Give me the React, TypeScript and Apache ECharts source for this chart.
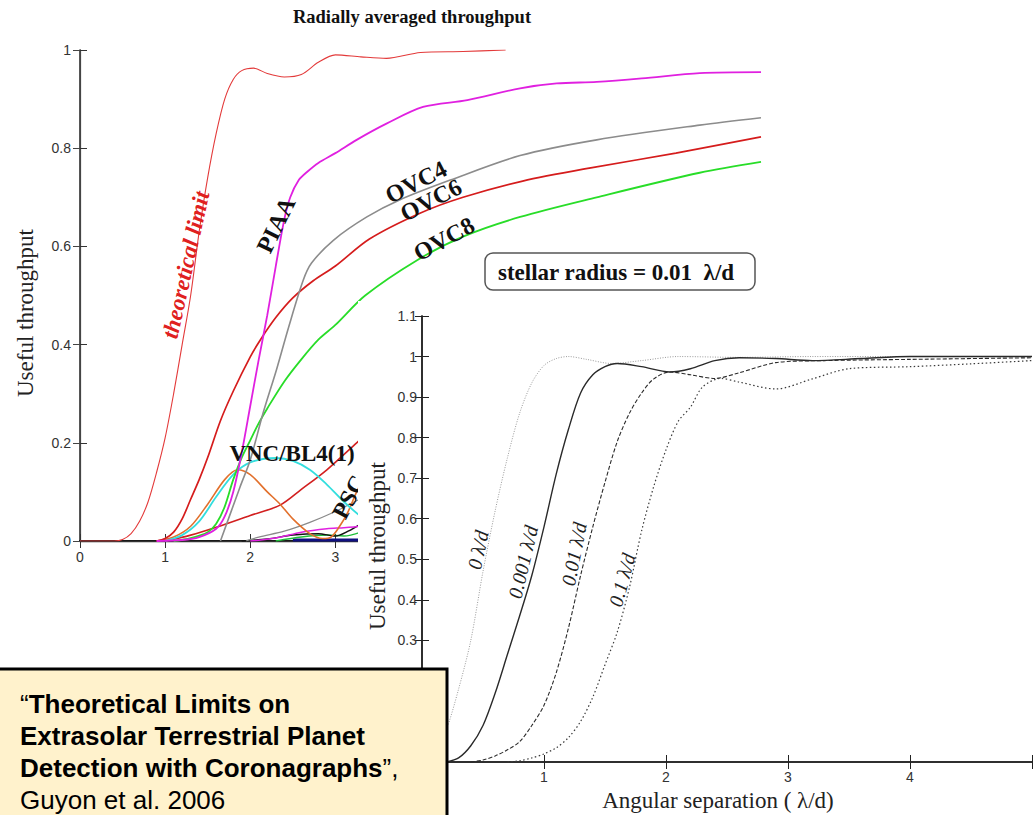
import React, { useEffect, useRef } from "react";
import * as echarts from "echarts";

type Pt = [number, number];

// ---------- Chart 1: Radially averaged throughput ----------
const CH1_TITLE = "Radially averaged throughput";
const CH1_Y_NAME = "Useful throughput";
const CH1_X_VISIBLE_MAX = 3;

const theoreticalLimit: Pt[] = [
  [0, 0], [0.4, 0], [0.5, 0.003], [0.6, 0.015], [0.7, 0.04], [0.8, 0.08], [0.9, 0.14],
  [1.0, 0.21], [1.1, 0.3], [1.2, 0.4], [1.3, 0.5], [1.4, 0.63], [1.5, 0.74], [1.6, 0.83],
  [1.7, 0.9], [1.8, 0.94], [1.9, 0.958], [2.04, 0.963], [2.2, 0.952], [2.4, 0.945],
  [2.6, 0.95], [2.8, 0.975], [3.0, 0.99], [3.3, 0.986], [3.6, 0.983], [4.0, 0.995],
  [4.5, 0.997], [5.0, 1.0],
];
const piaa: Pt[] = [
  [0.9, 0], [1.2, 0.002], [1.4, 0.008], [1.6, 0.025], [1.7, 0.05], [1.8, 0.1], [1.9, 0.18],
  [2.0, 0.275], [2.1, 0.37], [2.2, 0.46], [2.3, 0.56], [2.4, 0.655], [2.47, 0.7],
  [2.57, 0.735], [2.67, 0.752], [2.8, 0.77], [3.0, 0.79], [3.25, 0.817], [3.6, 0.85],
  [4.03, 0.884], [4.55, 0.898], [5.17, 0.922], [5.6, 0.932], [6.07, 0.935], [6.6, 0.942],
  [7.28, 0.953], [8, 0.955],
];
const ovc4: Pt[] = [
  [1.65, 0], [1.88, 0.11], [2.0, 0.165], [2.15, 0.26], [2.31, 0.35], [2.45, 0.435],
  [2.62, 0.53], [2.72, 0.566], [2.98, 0.613], [3.37, 0.66], [3.76, 0.695], [4.35, 0.735],
  [5.17, 0.785], [6.07, 0.817], [7.28, 0.847], [8, 0.862],
];
const ovc6: Pt[] = [
  [0.9, 0], [1.0, 0.005], [1.1, 0.018], [1.2, 0.045], [1.3, 0.085], [1.4, 0.125],
  [1.5, 0.17], [1.65, 0.245], [1.8, 0.305], [2.0, 0.375], [2.12, 0.41], [2.3, 0.455],
  [2.5, 0.495], [2.74, 0.53], [3.0, 0.56], [3.4, 0.615], [4.0, 0.668], [4.5, 0.7],
  [5.2, 0.733], [6.0, 0.76], [7.0, 0.79], [8.0, 0.823],
];
const ovc8: Pt[] = [
  [1.1, 0], [1.3, 0.006], [1.5, 0.018], [1.6, 0.035], [1.7, 0.07], [1.8, 0.125],
  [1.9, 0.17], [2.0, 0.205], [2.1, 0.24], [2.2, 0.27], [2.4, 0.325], [2.6, 0.37],
  [2.8, 0.41], [3.0, 0.44], [3.35, 0.5], [3.96, 0.572], [4.5, 0.62], [5.17, 0.66],
  [6.07, 0.7], [7.28, 0.75], [8, 0.772],
];
const vncBl4: Pt[] = [
  [1.0, 0], [1.2, 0.012], [1.4, 0.04], [1.6, 0.09], [1.8, 0.135], [2.0, 0.16],
  [2.3, 0.169], [2.5, 0.163], [2.7, 0.145], [2.9, 0.115], [3.1, 0.08], [3.3, 0.05],
  [3.5, 0.03], [3.8, 0.015],
];
const orangeCurve: Pt[] = [
  [0.9, 0], [1.1, 0.008], [1.3, 0.03], [1.5, 0.075], [1.7, 0.125], [1.85, 0.145],
  [2.0, 0.135], [2.2, 0.1], [2.35, 0.075], [2.5, 0.045], [2.7, 0.015], [2.85, 0.005],
  [2.95, 0.008], [3.05, 0.03], [3.15, 0.06], [3.25, 0.1], [3.35, 0.13], [3.5, 0.15],
];
const redLowCurve: Pt[] = [
  [1.0, 0], [1.3, 0.012], [1.6, 0.028], [2.0, 0.052], [2.35, 0.073], [2.6, 0.105],
  [2.9, 0.145], [3.25, 0.2], [3.5, 0.24],
];
const grayLowCurve: Pt[] = [
  [1.95, 0], [2.1, 0.008], [2.4, 0.02], [2.7, 0.038], [3.0, 0.06], [3.26, 0.083], [3.5, 0.1],
];
const magentaLowCurve: Pt[] = [
  [2.0, 0], [2.3, 0.006], [2.6, 0.018], [2.9, 0.025], [3.1, 0.027], [3.3, 0.03], [3.5, 0.035],
];
const blackLowCurve: Pt[] = [
  [1.9, 0], [2.2, 0.004], [2.5, 0.012], [2.8, 0.015], [3.0, 0.01], [3.15, 0.02], [3.3, 0.035],
];
const greenLowCurve: Pt[] = [
  [2.3, 0], [2.6, 0.008], [2.9, 0.012], [3.1, 0.01], [3.3, 0.018],
];
const blueBaseline: Pt[] = [[2.5, 0.002], [8, 0.002]];

// ---------- Chart 2: throughput vs stellar radius ----------
const CH2_Y_NAME = "Useful throughput";
const CH2_X_NAME = "Angular separation ( λ/d)";
const CH2_Y_HIDDEN_BELOW = 0.25;

const radius0: Pt[] = [
  [0, 0], [0.1, 0.02], [0.2, 0.08], [0.3, 0.18], [0.4, 0.3], [0.5, 0.47], [0.6, 0.62],
  [0.7, 0.75], [0.8, 0.86], [0.9, 0.935], [1.0, 0.978], [1.1, 0.995], [1.2, 1.0],
  [1.35, 0.993], [1.55, 0.983], [1.8, 0.99], [2.1, 1.0], [2.6, 0.998], [3.2, 1.0],
  [4, 1.0], [5, 1.0],
];
const radius0001: Pt[] = [
  [0.2, 0], [0.3, 0.01], [0.4, 0.04], [0.5, 0.09], [0.6, 0.17], [0.7, 0.265], [0.8, 0.36],
  [0.9, 0.46], [1.0, 0.58], [1.1, 0.71], [1.2, 0.82], [1.3, 0.91], [1.4, 0.955],
  [1.5, 0.975], [1.6, 0.983], [1.8, 0.975], [2.03, 0.962], [2.2, 0.97], [2.4, 0.99],
  [2.6, 0.997], [2.9, 0.995], [3.2, 0.99], [3.6, 0.995], [4.0, 1.0], [5.0, 1.0],
];
const radius001: Pt[] = [
  [0.4, 0], [0.5, 0.005], [0.6, 0.015], [0.7, 0.03], [0.8, 0.05], [0.9, 0.09], [1.0, 0.14],
  [1.1, 0.22], [1.2, 0.33], [1.3, 0.46], [1.4, 0.58], [1.5, 0.69], [1.6, 0.79], [1.7, 0.86],
  [1.8, 0.91], [1.9, 0.945], [2.03, 0.962], [2.2, 0.955], [2.4, 0.946], [2.6, 0.96],
  [2.9, 0.985], [3.3, 0.99], [4.0, 0.993], [5.0, 0.997],
];
const radius01: Pt[] = [
  [0.7, 0], [0.8, 0.003], [0.9, 0.01], [1.0, 0.02], [1.1, 0.035], [1.2, 0.06], [1.3, 0.1],
  [1.4, 0.16], [1.5, 0.24], [1.6, 0.32], [1.7, 0.43], [1.8, 0.57], [1.9, 0.68], [2.0, 0.77],
  [2.1, 0.84], [2.2, 0.875], [2.3, 0.925], [2.45, 0.946], [2.6, 0.937], [2.9, 0.92],
  [3.2, 0.945], [3.5, 0.97], [4.0, 0.975], [4.5, 0.982], [5.0, 0.99],
];

const SERIF = '"Liberation Serif", "Times New Roman", serif';
const SANS = '"Liberation Sans", Arial, sans-serif';

const fmt = (v: number) => String(Math.round(v * 10) / 10);

function lineSeries(data: Pt[], color: string, width: number, extra: any = {}) {
  return {
    type: "line",
    data,
    symbol: "none",
    smooth: 0.3,
    lineStyle: { color, width, ...(extra.lineStyle || {}) },
    z: extra.z ?? 2,
    silent: true,
  };
}

function txt(text: string, x: number, y: number, font: string, fill: string, rotDeg = 0, z = 20) {
  return {
    type: "text",
    x,
    y,
    rotation: (rotDeg * Math.PI) / 180,
    z,
    style: {
      text,
      font,
      fill,
      textAlign: "center",
      textVerticalAlign: "middle",
      align: "center",
      verticalAlign: "middle",
    },
  };
}

const opt1: any = {
  animation: false,
  backgroundColor: "#ffffff",
  grid: { left: 80, top: 50, width: 681, height: 491 },
  xAxis: [
    {
      type: "value", min: 0, max: 8, interval: 1, position: "bottom",
      axisLine: { show: true, lineStyle: { color: "#111", width: 2 } },
      axisTick: { show: true, inside: true, length: 7, lineStyle: { color: "#333" } },
      axisLabel: {
        color: "#333", fontSize: 14, fontFamily: SANS, margin: 9,
        formatter: (v: number) => (v <= CH1_X_VISIBLE_MAX ? fmt(v) : ""),
      },
      splitLine: { show: false },
    },
    {
      type: "value", min: 0, max: 8, interval: 1, position: "top",
      axisLine: { show: true, lineStyle: { color: "#333", width: 1.3 } },
      axisTick: { show: true, inside: true, length: 7, lineStyle: { color: "#333" } },
      axisLabel: { show: false },
      splitLine: { show: false },
    },
  ],
  yAxis: [
    {
      type: "value", min: 0, max: 1, interval: 0.2, position: "left",
      axisLine: { show: true, lineStyle: { color: "#222", width: 1.5 } },
      axisTick: { show: true, inside: true, length: 7, lineStyle: { color: "#333" } },
      axisLabel: { color: "#333", fontSize: 14, fontFamily: SANS, margin: 9, formatter: fmt },
      splitLine: { show: false },
    },
    {
      type: "value", min: 0, max: 1, interval: 0.2, position: "right",
      axisLine: { show: true, lineStyle: { color: "#444", width: 1.2 } },
      axisTick: { show: true, inside: true, length: 7, lineStyle: { color: "#444" } },
      axisLabel: { show: false },
      splitLine: { show: false },
    },
  ],
  series: [
    lineSeries(blueBaseline, "#101080", 3),
    lineSeries(greenLowCurve, "#1fbf3a", 1.5),
    lineSeries(blackLowCurve, "#111111", 1.5),
    lineSeries(magentaLowCurve, "#e020e0", 1.5),
    lineSeries(grayLowCurve, "#8a8a8a", 1.2),
    lineSeries(redLowCurve, "#d21f1f", 1.6),
    lineSeries(orangeCurve, "#e2702c", 1.6),
    lineSeries(vncBl4, "#33dede", 1.8),
    lineSeries(ovc8, "#28dd28", 1.8),
    lineSeries(ovc6, "#d51c1c", 1.7),
    lineSeries(ovc4, "#8c8c8c", 1.6),
    lineSeries(piaa, "#e020e0", 1.8),
    lineSeries(theoreticalLimit, "#e33a3a", 1.1),
  ],
  graphic: [
    txt(CH1_TITLE, 412, 17, `bold 18.5px ${SERIF}`, "#111"),
    txt(CH1_Y_NAME, 25, 313, `23px ${SERIF}`, "#222", 90),
    txt("theoretical limit", 186, 265, `italic bold 23px ${SERIF}`, "#e02020", 77.5),
    txt("PIAA", 276, 225, `bold 24px ${SERIF}`, "#111", 64),
    txt("OVC4", 416, 182, `bold 24px ${SERIF}`, "#111", 27),
    txt("OVC6", 431, 200, `bold 24px ${SERIF}`, "#111", 27),
    txt("OVC8", 444, 239, `bold 24px ${SERIF}`, "#111", 29),
    txt("VNC/BL4(1)", 292, 453, `bold 23px ${SERIF}`, "#111"),
    txt("PSC", 349, 497, `bold 24px ${SERIF}`, "#111", 62),
    {
      type: "rect", z: 19,
      shape: { x: 485, y: 253, width: 270, height: 37, r: 8 },
      style: { fill: "#ffffff", stroke: "#555", lineWidth: 1.5 },
    },
    txt("stellar radius = 0.01  λ/d", 616, 272, `bold 23px ${SERIF}`, "#111"),
  ],
};

const opt2: any = {
  animation: false,
  backgroundColor: "transparent",
  grid: { left: 422, top: 316, width: 618, height: 446 },
  xAxis: [
    {
      type: "value", min: 0, max: 5, interval: 1, position: "bottom",
      axisLine: { show: true, lineStyle: { color: "#222", width: 1.5 } },
      axisTick: { show: true, inside: true, length: 7, lineStyle: { color: "#222" } },
      axisLabel: {
        color: "#333", fontSize: 14, fontFamily: SANS, margin: 8,
        formatter: (v: number) => (v >= 1 && v <= 4 ? fmt(v) : ""),
      },
      splitLine: { show: false },
    },
    {
      type: "value", min: 0, max: 5, interval: 1, position: "top",
      axisLine: { show: true, lineStyle: { color: "#222", width: 1.5 } },
      axisTick: { show: true, inside: true, length: 7, lineStyle: { color: "#222" } },
      axisLabel: { show: false },
      splitLine: { show: false },
    },
  ],
  yAxis: [
    {
      type: "value", min: 0, max: 1.1, interval: 0.1, position: "left",
      axisLine: { show: true, lineStyle: { color: "#222", width: 1.5 } },
      axisTick: { show: true, inside: true, length: 7, lineStyle: { color: "#222" } },
      axisLabel: {
        color: "#333", fontSize: 14, fontFamily: SANS, margin: 5,
        formatter: (v: number) => (v >= CH2_Y_HIDDEN_BELOW ? fmt(v) : ""),
      },
      splitLine: { show: false },
    },
    {
      type: "value", min: 0, max: 1.1, interval: 0.1, position: "right",
      axisLine: { show: true, lineStyle: { color: "#222", width: 1.5 } },
      axisTick: { show: true, inside: true, length: 7, lineStyle: { color: "#222" } },
      axisLabel: { show: false },
      splitLine: { show: false },
    },
  ],
  series: [
    lineSeries(radius0, "#9a9a9a", 1, { lineStyle: { type: [1, 1.5] } }),
    lineSeries(radius01, "#3a3a3a", 1.2, { lineStyle: { type: [1.5, 2.5] } }),
    lineSeries(radius001, "#2a2a2a", 1.1, { lineStyle: { type: [4, 2] } }),
    lineSeries(radius0001, "#2a2a2a", 1.4),
  ],
  graphic: [
    txt(CH2_Y_NAME, 377, 546, `23px ${SERIF}`, "#222", 90),
    txt(CH2_X_NAME, 718, 800, `23px ${SERIF}`, "#222"),
    txt("0 λ/d", 478, 550, `italic 20px ${SERIF}`, "#222", 78),
    txt("0.001 λ/d", 523, 562, `italic 20px ${SERIF}`, "#222", 76.5),
    txt("0.01 λ/d", 574, 554, `italic 20px ${SERIF}`, "#222", 79),
    txt("0.1 λ/d", 622, 580, `italic 20px ${SERIF}`, "#222", 75),
    {
      type: "rect", z: 40,
      shape: { x: -4, y: 669, width: 451, height: 160 },
      style: { fill: "#FFF2CC", stroke: "#000", lineWidth: 3 },
    },
    {
      type: "text", x: 20, y: 688, z: 41,
      style: {
        text:
          "{r|“}{b|Theoretical Limits on}\n{b|Extrasolar Terrestrial Planet}\n{b|Detection with Coronagraphs}{r|”,}\n{r|Guyon et al. 2006}",
        fill: "#000",
        textAlign: "left",
        textVerticalAlign: "top",
        align: "left",
        verticalAlign: "top",
        rich: {
          b: { fontFamily: SANS, fontWeight: "bold", fontSize: 26, lineHeight: 32, fill: "#000", color: "#000" },
          r: { fontFamily: SANS, fontWeight: "normal", fontSize: 26, lineHeight: 32, fill: "#000", color: "#000" },
        },
      },
    },
  ],
};

export default function App() {
  const r1 = useRef<HTMLDivElement>(null);
  const r2 = useRef<HTMLDivElement>(null);
  useEffect(() => {
    document.body.style.margin = "0";
    const c1 = echarts.init(r1.current!, undefined, { renderer: "svg" });
    c1.setOption(opt1);
    const c2 = echarts.init(r2.current!, undefined, { renderer: "svg" });
    c2.setOption(opt2);
    return () => {
      c1.dispose();
      c2.dispose();
    };
  }, []);
  return (
    <div style={{ position: "absolute", left: 0, top: 0, width: 1035, height: 815, overflow: "hidden", background: "#fff" }}>
      <div ref={r1} style={{ position: "absolute", left: 0, top: 0, width: 1035, height: 815 }} />
      <div style={{ position: "absolute", left: 358, top: 301, width: 677, height: 514, background: "#fff" }} />
      <div ref={r2} style={{ position: "absolute", left: 0, top: 0, width: 1035, height: 815 }} />
    </div>
  );
}
